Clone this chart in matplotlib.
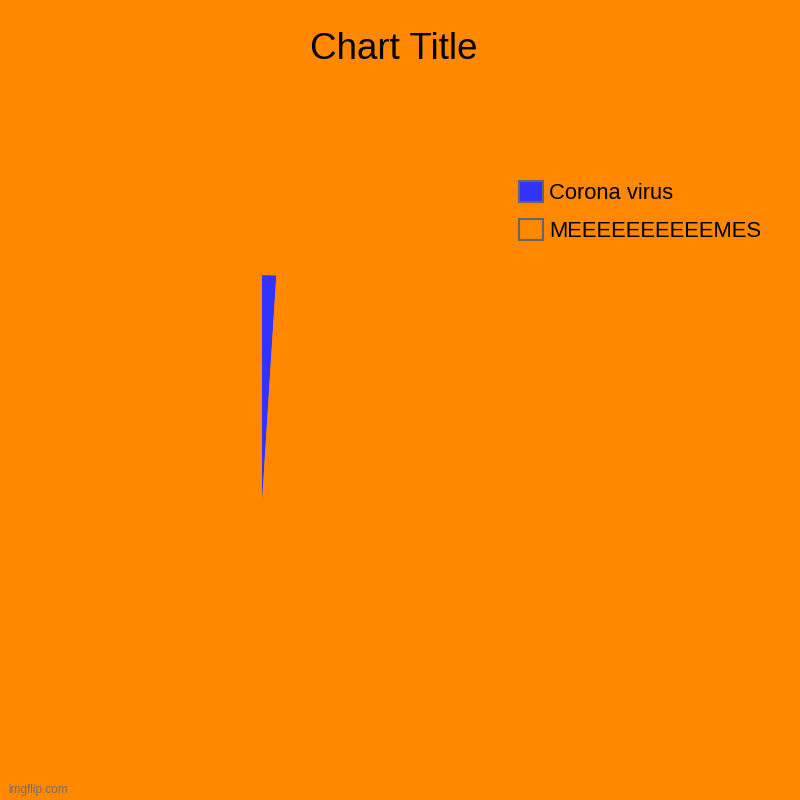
import matplotlib.pyplot as plt
from matplotlib.patches import Patch

labels = ['Corona virus', 'MEEEEEEEEEEMES']
values = [1, 99]
colors = ['#3333ff', '#ff8800']

BG = '#ff8800'


def main():
    plt.rcParams['font.family'] = ['Liberation Sans', 'DejaVu Sans']
    fig = plt.figure(figsize=(8, 8), dpi=100, facecolor=BG)

    # pie axes: centre ~ (262, 503) px, radius ~228 px
    ax = fig.add_axes([0.0425, 0.086, 0.57, 0.57])
    ax.set_facecolor(BG)
    ax.pie(values, colors=colors, startangle=90, counterclock=False,
           wedgeprops={'linewidth': 0})
    ax.set_xlim(-1, 1)
    ax.set_ylim(-1, 1)
    ax.set_aspect('equal')
    ax.axis('off')

    fig.text(0.4925, 0.938, 'Chart Title', ha='center', va='center', fontsize=26.5)

    handles = [Patch(facecolor=c, edgecolor='#666666', linewidth=1.5) for c in colors]
    fig.legend(handles, labels, loc='upper left', bbox_to_anchor=(0.635, 0.787),
               frameon=False, fontsize=15.8, handlelength=1.08, handleheight=1.08,
               handletextpad=0.3, labelspacing=0.68, borderpad=0)

    fig.text(0.01, 0.012, 'imgflip.com', ha='left', va='center',
             fontsize=8.5, color='#666666', alpha=0.85)

    fig.savefig('out.png', facecolor=BG)


if __name__ == "__main__":
    main()
